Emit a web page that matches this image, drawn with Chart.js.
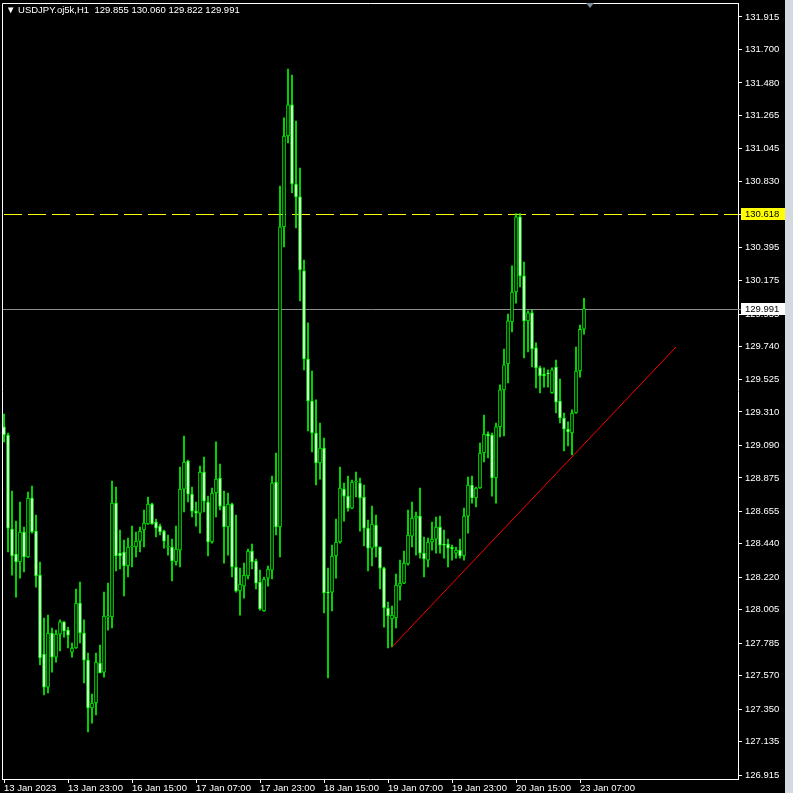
<!DOCTYPE html>
<html>
<head>
<meta charset="utf-8">
<script src="https://cdn.jsdelivr.net/npm/chart.js@4.4.1/dist/chart.umd.min.js"></script>
<style>
  html, body { margin: 0; padding: 0; background: #000; }
  #wrap { position: relative; width: 793px; height: 793px; overflow: hidden; background: #000; }
  #strip { position: absolute; left: 785px; top: 0; width: 8px; height: 793px; background: #d3d8e1; }
  #head { position: absolute; left: 6px; top: 4px; color: #fff; font: 9.5px 'Liberation Sans', sans-serif; white-space: pre; }
  #shift { position: absolute; left: 586px; top: 3px; width: 0; height: 0;
           border-left: 4.5px solid transparent; border-right: 4.5px solid transparent; border-top: 5px solid #7b8b9a; }
</style>
</head>
<body>
<div id="wrap">
  <canvas id="myChart" width="793" height="793"></canvas>
  <div id="head">▼ USDJPY.oj5k,H1  129.855 130.060 129.822 129.991</div>
  <div id="shift"></div>
  <div id="strip"></div>
</div>
<script>
// USDJPY H1 bars, 13 Jan 2023 07:00 .. 23 Jan 2023 08:00
const opens = [
  129.211, 129.158, 128.538, 128.373, 128.320, 128.518, 128.353, 128.742, 128.524, 128.234,
  127.713, 127.495, 127.852, 127.693, 127.845, 127.925, 127.871, 127.726, 127.753, 128.050,
  127.852, 127.673, 127.357, 127.390, 127.654, 127.594, 127.958, 127.958, 128.709, 128.379,
  128.386, 128.294, 128.419, 128.419, 128.458, 128.531, 128.571, 128.703, 128.584, 128.557,
  128.524, 128.419, 128.419, 128.320, 128.399, 128.801, 128.986, 128.768, 128.656, 128.643,
  128.914, 128.716, 128.452, 128.775, 128.874, 128.689, 128.551, 128.703, 128.287, 128.129,
  128.161, 128.228, 128.393, 128.327, 128.188, 127.997, 128.214, 128.267, 128.848, 128.551,
  130.530, 131.130, 131.335, 130.813, 130.728, 130.240, 129.659, 129.382, 129.171, 128.973,
  129.072, 128.122, 128.122, 128.360, 128.452, 128.801, 128.755, 128.676, 128.848, 128.841,
  128.749, 128.544, 128.412, 128.564, 128.419, 128.280, 128.017, 127.944, 127.951, 128.161,
  128.181, 128.307, 128.491, 128.610, 128.623, 128.379, 128.333, 128.452, 128.471, 128.551,
  128.439, 128.439, 128.419, 128.379, 128.399, 128.360, 128.623, 128.828, 128.742, 128.808,
  129.039, 129.164, 129.158, 128.874, 129.211, 129.455, 129.626, 129.903, 130.101, 130.596,
  130.207, 129.910, 129.963, 129.732, 129.600, 129.560, 129.567, 129.435, 129.606, 129.382,
  129.270, 129.197, 129.171, 129.303, 129.580, 129.855
];
const highs = [
  129.296, 129.171, 128.788, 128.590, 128.716, 128.551, 128.782, 128.821, 128.630, 128.320,
  127.951, 127.970, 127.885, 127.872, 127.938, 127.928, 127.891, 127.786, 128.142, 128.188,
  127.938, 127.720, 127.449, 127.720, 127.772, 128.122, 128.181, 128.854, 128.815, 128.531,
  128.465, 128.478, 128.557, 128.518, 128.551, 128.663, 128.749, 128.709, 128.604, 128.571,
  128.531, 128.498, 128.471, 128.557, 128.947, 129.151, 128.993, 128.815, 128.716, 128.953,
  129.013, 128.755, 128.808, 129.112, 128.966, 128.788, 128.775, 128.709, 128.630, 128.280,
  128.313, 128.406, 128.439, 128.340, 128.267, 128.221, 128.294, 128.887, 129.039, 130.800,
  131.249, 131.572, 131.532, 131.229, 130.919, 130.312, 129.897, 129.580, 129.389, 129.237,
  129.138, 128.280, 128.432, 128.604, 128.947, 128.841, 128.887, 128.861, 128.914, 128.874,
  128.828, 128.597, 128.689, 128.630, 128.421, 128.287, 128.056, 128.030, 128.241, 128.333,
  128.393, 128.663, 128.716, 128.650, 128.808, 128.485, 128.478, 128.584, 128.617, 128.623,
  128.531, 128.471, 128.432, 128.419, 128.471, 128.676, 128.881, 128.887, 128.815, 129.105,
  129.290, 129.178, 129.171, 129.237, 129.488, 129.725, 129.956, 130.273, 130.618, 130.618,
  130.299, 129.976, 129.983, 129.765, 129.613, 129.600, 129.587, 129.600, 129.652, 129.527,
  129.303, 129.244, 129.323, 129.738, 129.883, 130.060
];
const lows = [
  129.112, 128.386, 128.234, 128.089, 128.214, 128.254, 128.350, 128.511, 128.155, 127.641,
  127.443, 127.456, 127.594, 127.660, 127.733, 127.825, 127.753, 127.693, 127.750, 127.786,
  127.522, 127.199, 127.258, 127.311, 127.588, 127.561, 127.871, 127.885, 128.261, 128.274,
  128.096, 128.221, 128.287, 128.353, 128.386, 128.419, 128.568, 128.568, 128.485, 128.498,
  128.412, 128.366, 128.195, 128.300, 128.287, 128.650, 128.716, 128.617, 128.557, 128.511,
  128.650, 128.360, 128.445, 128.617, 128.663, 128.313, 128.366, 128.221, 128.122, 127.970,
  128.082, 128.208, 128.274, 128.142, 128.003, 127.994, 128.161, 128.208, 128.498, 128.353,
  130.398, 131.084, 130.754, 130.523, 130.042, 129.587, 129.184, 129.046, 128.828, 128.867,
  127.984, 127.555, 127.997, 128.214, 128.445, 128.590, 128.656, 128.672, 128.749, 128.524,
  128.426, 128.261, 128.294, 128.353, 128.142, 127.891, 127.753, 127.760, 127.885, 128.069,
  128.178, 128.300, 128.419, 128.366, 128.346, 128.221, 128.287, 128.399, 128.379, 128.379,
  128.346, 128.287, 128.333, 128.346, 128.346, 128.333, 128.511, 128.709, 128.683, 128.805,
  128.980, 129.007, 128.755, 128.709, 129.145, 129.151, 129.501, 129.837, 130.028, 130.134,
  129.666, 129.705, 129.606, 129.468, 129.435, 129.474, 129.474, 129.432, 129.303, 129.237,
  129.052, 129.085, 129.026, 129.300, 129.540, 129.822
];
const closes = [
  129.158, 128.544, 128.360, 128.320, 128.518, 128.353, 128.742, 128.518, 128.228, 127.687,
  127.495, 127.852, 127.693, 127.845, 127.925, 127.865, 127.838, 127.753, 128.050, 127.852,
  127.673, 127.357, 127.390, 127.660, 127.588, 127.964, 127.964, 128.709, 128.360, 128.360,
  128.294, 128.419, 128.421, 128.458, 128.524, 128.577, 128.703, 128.571, 128.544, 128.518,
  128.458, 128.421, 128.327, 128.406, 128.801, 128.980, 128.768, 128.656, 128.643, 128.914,
  128.722, 128.452, 128.775, 128.867, 128.689, 128.551, 128.703, 128.287, 128.129, 128.175,
  128.234, 128.393, 128.320, 128.181, 128.010, 128.208, 128.274, 128.841, 128.551, 130.530,
  131.130, 131.335, 130.813, 130.728, 130.246, 129.659, 129.382, 129.171, 128.973, 129.072,
  128.116, 128.116, 128.360, 128.452, 128.808, 128.755, 128.676, 128.848, 128.850, 128.742,
  128.544, 128.412, 128.571, 128.419, 128.280, 128.017, 127.964, 127.970, 128.168, 128.181,
  128.313, 128.498, 128.610, 128.623, 128.379, 128.340, 128.452, 128.471, 128.551, 128.432,
  128.432, 128.412, 128.406, 128.399, 128.360, 128.623, 128.828, 128.742, 128.808, 129.039,
  129.164, 129.151, 128.874, 129.211, 129.455, 129.620, 129.910, 130.101, 130.596, 130.207,
  129.910, 129.963, 129.725, 129.600, 129.547, 129.547, 129.560, 129.587, 129.375, 129.270,
  129.197, 129.178, 129.303, 129.580, 129.855, 129.991
];

// time axis labels, one every 16 bars
const xTickLabels = ['13 Jan 2023', '13 Jan 23:00', '16 Jan 15:00', '17 Jan 07:00', '17 Jan 23:00',
                     '18 Jan 15:00', '19 Jan 07:00', '19 Jan 23:00', '20 Jan 15:00', '23 Jan 07:00'];
const yTickValues = [131.915, 131.700, 131.480, 131.265, 131.045, 130.830, 130.610, 130.395, 130.175,
                     129.955, 129.740, 129.525, 129.310, 129.090, 128.875, 128.655, 128.440, 128.220,
                     128.005, 127.785, 127.570, 127.350, 127.135, 126.915];
const yMin = 126.889;
const yMax = 132.007;

const askLevel = 130.618;   // yellow dashed line
const bidLevel = 129.991;   // grey price line
const trendStart = { bar: 97, price: 127.760 };
const trendEnd = { bar: 168, price: 129.738 };

// window holds 184 bar slots, only the first ones are filled
const nSlots = 184;
const categories = Array.from({ length: nSlots }, (_, i) => i);

const bodies = opens.map((o, i) => [o, closes[i]]);
const wicks = lows.map((l, i) => [l, highs[i]]);
const bodyColors = opens.map((o, i) => closes[i] < o ? '#ffffff' : '#000000');
const trendData = categories.map(i =>
  i === trendStart.bar ? trendStart.price : i === trendEnd.bar ? trendEnd.price : null);

const axisFont = { family: "'Liberation Sans', sans-serif", size: 9.5 };

const overlay = {
  id: 'overlay',
  beforeDatasetsDraw(chart) {
    const { ctx, chartArea: a, scales: { y } } = chart;
    ctx.save();
    ctx.lineWidth = 1;
    // bid line
    let py = Math.round(y.getPixelForValue(bidLevel)) + 0.5;
    ctx.strokeStyle = '#8c8c8c';
    ctx.beginPath(); ctx.moveTo(a.left, py); ctx.lineTo(a.right + 3, py); ctx.stroke();
    // dashed level
    py = Math.round(y.getPixelForValue(askLevel)) + 0.5;
    ctx.strokeStyle = '#ffff00';
    ctx.setLineDash([18, 6]);
    ctx.lineDashOffset = 22;
    ctx.beginPath(); ctx.moveTo(a.left, py); ctx.lineTo(a.right, py); ctx.stroke();
    ctx.restore();
  },
  afterDraw(chart) {
    const { ctx, chartArea: a, scales: { y } } = chart;
    ctx.save();
    ctx.strokeStyle = '#ffffff';
    ctx.lineWidth = 1;
    ctx.beginPath();
    ctx.moveTo(a.left + 0.5, a.bottom); ctx.lineTo(a.left + 0.5, a.top + 0.5); ctx.lineTo(a.right, a.top + 0.5);
    ctx.stroke();
    // price boxes on the axis
    ctx.font = "9.5px 'Liberation Sans', sans-serif";
    ctx.textBaseline = 'middle';
    ctx.textAlign = 'left';
    [[askLevel, '#ffff00', '#000000'], [bidLevel, '#ffffff', '#000000']].forEach(([v, bg, fg]) => {
      const py = Math.round(y.getPixelForValue(v));
      ctx.fillStyle = bg;
      ctx.fillRect(a.right + 3, py - 6, 44, 12);
      ctx.fillStyle = fg;
      ctx.fillText(v.toFixed(3), a.right + 7, py + 0.5);
    });
    ctx.restore();
  }
};

const ctx = document.getElementById('myChart').getContext('2d');
const chart = new Chart(ctx, {
  type: 'bar',
  data: {
    labels: categories,
    datasets: [
      {
        type: 'line',
        data: trendData,
        borderColor: '#ff0000',
        borderWidth: 1,
        pointRadius: 0,
        spanGaps: true,
        order: 0
      },
      {
        data: bodies,
        backgroundColor: bodyColors,
        borderColor: '#00ff00',
        borderWidth: 1,
        borderSkipped: false,
        barThickness: 3,
        minBarLength: 1,
        grouped: false,
        order: 1
      },
      {
        data: wicks,
        backgroundColor: '#00ff00',
        barThickness: 1,
        grouped: false,
        order: 2
      }
    ]
  },
  options: {
    responsive: false,
    animation: false,
    devicePixelRatio: 1,
    layout: { padding: { left: 2, top: 3, right: 0, bottom: 0 } },
    plugins: { legend: { display: false }, tooltip: { enabled: false } },
    scales: {
      x: {
        offset: true,
        grid: { offset: false, drawOnChartArea: false, color: '#ffffff', tickLength: 4 },
        border: { color: '#ffffff' },
        ticks: {
          color: '#ffffff', font: axisFont, autoSkip: false, maxRotation: 0,
          align: 'start', padding: 0,
          callback: v => xTickLabels[v / 16]
        },
        afterBuildTicks: s => { s.ticks = s.ticks.filter(t => t.value % 16 === 0 && t.value / 16 < xTickLabels.length); },
        afterFit: s => { s.height = 14; s.paddingLeft = 0; s.paddingRight = 0; }
      },
      y: {
        position: 'right',
        min: yMin,
        max: yMax,
        grid: { drawOnChartArea: false, color: '#ffffff', tickLength: 4 },
        border: { color: '#ffffff' },
        ticks: {
          color: '#ffffff', font: axisFont, padding: 3,
          callback: v => v.toFixed(3)
        },
        afterBuildTicks: s => { s.ticks = yTickValues.map(v => ({ value: v })); },
        afterFit: s => { s.width = 55; s.paddingTop = 0; s.paddingBottom = 0; }
      }
    }
  },
  plugins: [overlay]
});
</script>
</body>
</html>
